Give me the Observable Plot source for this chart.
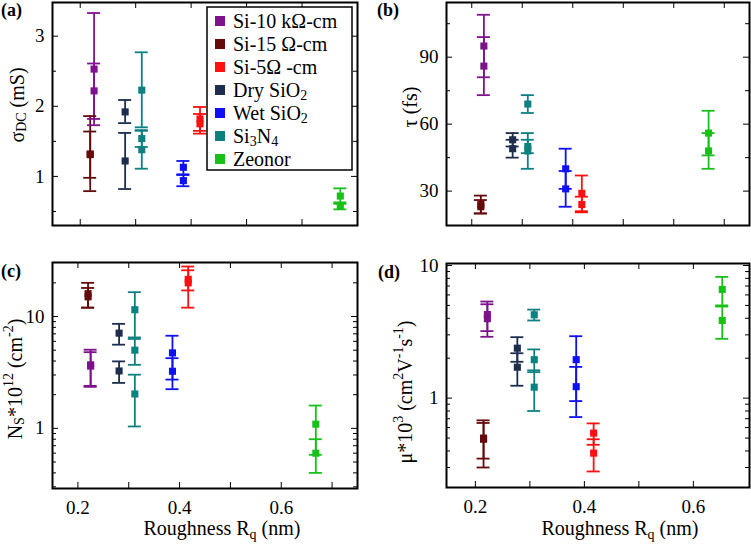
<!DOCTYPE html>
<html><head><meta charset="utf-8">
<script src="https://cdn.jsdelivr.net/npm/d3@7"></script>
<script src="https://cdn.jsdelivr.net/npm/@observablehq/plot@0.6"></script>
<style>
body{margin:0;background:#fff;}
#wrap{position:relative;width:751px;height:550px;overflow:hidden;background:#fff;}
#wrap svg{position:absolute;overflow:visible;}
#wrap svg text{font-family:"Liberation Serif","Times New Roman",Tinos,"DejaVu Serif","Noto Serif",FreeSerif,"Nimbus Roman",Times,serif !important;}
</style></head><body><div id="wrap"></div>
<script>
const FONT = "\"Liberation Serif\", \"Times New Roman\", Tinos, \"DejaVu Serif\", \"Noto Serif\", FreeSerif, Times, serif";
// Materials (legend order) and colours
const materials = ["Si-10 kΩ-cm", "Si-15 Ω-cm", "Si-5Ω -cm", "Dry SiO2", "Wet SiO2", "Si3N4", "Zeonor"];
const colors = ["#7e128c", "#650a0a", "#ff1010", "#1c2d4d", "#1010f5", "#0e8080", "#18c018"];

// Rows: [material index, roughness Rq (nm), value, error low, error high]
const sigmaDC = [
  [0, 0.225, 2.53, 1.73, 3.33], [0, 0.225, 2.22, 1.82, 2.61],
  [1, 0.218, 1.31, 0.98, 1.64], [1, 0.218, 1.32, 0.79, 1.86],
  [3, 0.281, 1.92, 1.76, 2.09], [3, 0.281, 1.22, 0.82, 1.62],
  [5, 0.311, 2.23, 1.70, 2.77], [5, 0.311, 1.54, 1.42, 1.66], [5, 0.311, 1.38, 1.11, 1.65],
  [4, 0.386, 1.13, 1.03, 1.22], [4, 0.386, 0.94, 0.86, 1.02],
  [2, 0.416, 1.82, 1.65, 1.99], [2, 0.416, 1.75, 1.61, 1.89],
  [6, 0.669, 0.72, 0.61, 0.83], [6, 0.669, 0.58, 0.53, 0.63]
];
const tau = [
  [0, 0.224, 95, 81, 109], [0, 0.224, 86, 73, 99],
  [1, 0.218, 24, 20, 28], [1, 0.218, 23, 20, 26],
  [3, 0.281, 53, 50, 56], [3, 0.281, 49, 45, 53],
  [5, 0.311, 69, 65, 73], [5, 0.311, 50, 47, 53], [5, 0.311, 48, 40, 56],
  [4, 0.386, 40, 31, 49], [4, 0.386, 31, 23, 39],
  [2, 0.418, 29, 21, 37], [2, 0.418, 24, 20.5, 27.5],
  [6, 0.669, 56, 46, 66], [6, 0.669, 48, 40, 56]
];
const ns = [
  [1, 0.220, 16, 12, 20], [1, 0.220, 15, 12, 18],
  [0, 0.225, 3.7, 2.35, 5.05], [0, 0.225, 3.6, 2.4, 4.8],
  [3, 0.281, 7.1, 5.6, 8.6], [3, 0.281, 3.26, 2.55, 3.97],
  [5, 0.312, 11.5, 6.5, 16.5], [5, 0.312, 5.0, 3.7, 6.3], [5, 0.312, 2.03, 1.04, 3.02],
  [4, 0.386, 4.73, 2.73, 6.73], [4, 0.386, 3.24, 2.24, 4.24],
  [2, 0.417, 20, 12, 28], [2, 0.417, 21.5, 17.1, 25.9],
  [6, 0.668, 1.09, 0.58, 1.6], [6, 0.668, 0.6, 0.4, 0.8]
];
const mobility = [
  [0, 0.222, 4.27, 3.2, 5.35], [0, 0.222, 3.97, 2.9, 5.1],
  [1, 0.215, 0.49, 0.30, 0.68], [1, 0.215, 0.50, 0.35, 0.65],
  [3, 0.277, 2.38, 1.88, 2.88], [3, 0.277, 1.71, 1.24, 2.18],
  [5, 0.308, 4.25, 3.85, 4.65], [5, 0.308, 1.95, 1.57, 2.33], [5, 0.308, 1.21, 0.80, 1.62],
  [4, 0.385, 1.95, 0.95, 2.93], [4, 0.385, 1.22, 0.72, 1.72],
  [2, 0.417, 0.545, 0.445, 0.645], [2, 0.417, 0.385, 0.28, 0.49],
  [6, 0.653, 6.6, 5.0, 8.2], [6, 0.653, 3.85, 2.8, 4.9]
];

// Tick values and labels
const xTicksA = [0.2, 0.3, 0.4, 0.5, 0.6];
const xTicksB = [0.2, 0.3, 0.4, 0.5, 0.6, 0.7];
const xTicksC = [0.2, 0.3, 0.4, 0.5, 0.6, 0.7];
const xTicksD = [0.2, 0.3, 0.4, 0.5, 0.6];
const xTickLabels = [0.2, 0.4, 0.6];
const yMajorA = [1, 2, 3], yMinorA = [0.5, 1.5, 2.5];
const yMajorB = [30, 60, 90], yMinorB = [45, 75, 105];
const yMajorLog = [1, 10];
const yMinorC = [0.3, 0.4, 0.5, 0.6, 0.7, 0.8, 0.9, 2, 3, 4, 5, 6, 7, 8, 9, 20];
const yMinorD = [0.3, 0.4, 0.5, 0.6, 0.7, 0.8, 0.9, 2, 3, 4, 5, 6, 7, 8, 9];

const wrap = document.getElementById("wrap");

function panel(cfg) {
  const [L, T, Wd, Ht, mL, mR, mT, mB] = cfg.box;
  const fw = Wd - mL - mR, fh = Ht - mT - mB;
  const data = cfg.rows.map(([m, x, y, lo, hi]) => ({m: materials[m], x, y, lo, hi}));
  const marks = [
    Plot.tickX(cfg.xTicks, {x: d => d, insetTop: fh - 6, stroke: "black"}),
    Plot.tickX(cfg.xTicks, {x: d => d, insetBottom: fh - 6, stroke: "black"}),
    Plot.tickY(cfg.yMajor, {y: d => d, insetRight: fw - 6, stroke: "black"}),
    Plot.tickY(cfg.yMajor, {y: d => d, insetLeft: fw - 6, stroke: "black"}),
    Plot.tickY(cfg.yMinor, {y: d => d, insetRight: fw - 4, stroke: "black"}),
    Plot.tickY(cfg.yMinor, {y: d => d, insetLeft: fw - 4, stroke: "black"}),
    Plot.axisY({ticks: cfg.yMajor, tickSize: 0, tickPadding: 8, fontSize: 19, tickFormat: d => String(d), label: null}),
    Plot.ruleX(data, {x: "x", y1: "lo", y2: "hi", stroke: "m", strokeWidth: 1.8}),
    Plot.ruleY(data, {y: "lo", x1: "x", x2: "x", insetLeft: -6.5, insetRight: -6.5, stroke: "m", strokeWidth: 1.8}),
    Plot.ruleY(data, {y: "hi", x1: "x", x2: "x", insetLeft: -6.5, insetRight: -6.5, stroke: "m", strokeWidth: 1.8}),
    Plot.dot(data, {x: "x", y: "y", symbol: "square", fill: "m", r: 4}),
    Plot.frame({stroke: "black", strokeWidth: 2})
  ];
  if (cfg.xLabels) marks.push(Plot.axisX({ticks: cfg.xLabels, tickSize: 0, tickPadding: 12, fontSize: 19, tickFormat: d => d.toFixed(1), label: null}));
  const svg = Plot.plot({
    width: Wd, height: Ht,
    marginLeft: mL, marginRight: mR, marginTop: mT, marginBottom: mB,
    style: {fontFamily: FONT, fontSize: "19px", background: "transparent", overflow: "visible", color: "black"},
    x: {domain: cfg.xDomain, axis: null},
    y: {type: cfg.yType, domain: cfg.yDomain, axis: null},
    color: {domain: materials, range: colors},
    marks
  });
  svg.style.position = "absolute";
  svg.style.left = L + "px";
  svg.style.top = T + "px";
  wrap.appendChild(svg);
}

panel({rows: sigmaDC, box: [0, 0, 360, 228, 52, 3, 2, 3], xDomain: [0.15, 0.7], xTicks: xTicksA,
  yType: "linear", yDomain: [0.3, 3.48], yMajor: yMajorA, yMinor: yMinorA});
panel({rows: tau, box: [390, 0, 361, 228, 56, 2, 2, 3], xDomain: [0.15, 0.75], xTicks: xTicksB,
  yType: "linear", yDomain: [14.6, 114.5], yMajor: yMajorB, yMinor: yMinorB});
panel({rows: ns, box: [0, 260, 360, 290, 52, 3, 2, 62], xDomain: [0.15, 0.75], xTicks: xTicksC, xLabels: xTickLabels,
  yType: "log", yDomain: [0.29, 30.4], yMajor: yMajorLog, yMinor: yMinorC});
panel({rows: mobility, box: [390, 260, 361, 290, 56, 2, 3, 63], xDomain: [0.147, 0.703], xTicks: xTicksD, xLabels: xTickLabels,
  yType: "log", yDomain: [0.212, 10.35], yMajor: yMajorLog, yMinor: yMinorD});

// Overlay: titles, panel letters, legend
const ov = d3.select(wrap).append("svg").attr("width", 751).attr("height", 550)
  .style("left", "0px").style("top", "0px").style("pointer-events", "none")
  .style("font-family", FONT).attr("fill", "black");

function rich(sel, parts, subShift = 4) {
  let shift = 0;
  for (const [t, k] of parts) {
    const target = k === "sub" ? subShift : k === "sup" ? -7 : 0;
    const ts = sel.append("tspan").text(t).attr("dy", target - shift);
    if (k) ts.attr("font-size", 14);
    shift = target;
  }
}

const labelSize = 20;
function yTitle(x, y, parts) {
  const t = ov.append("text").attr("transform", `translate(${x},${y}) rotate(-90)`)
    .attr("text-anchor", "middle").attr("font-size", labelSize).attr("dominant-baseline", "central");
  rich(t, parts);
}
yTitle(17, 105, [["σ", ""], ["DC", "sub"], [" (mS)", ""]]);
yTitle(410, 107, [["τ (fs)", ""]]);
yTitle(15, 379, [["N", ""], ["S", "sub"], ["*10", ""], ["12", "sup"], [" (cm", ""], ["-2", "sup"], [")", ""]]);
yTitle(405, 392, [["μ*10", ""], ["3", "sup"], [" (cm", ""], ["2", "sup"], ["V", ""], ["-1", "sup"], ["s", ""], ["-1", "sup"], [")", ""]]);

function xTitle(x, y) {
  const t = ov.append("text").attr("x", x).attr("y", y).attr("text-anchor", "middle").attr("font-size", labelSize);
  rich(t, [["Roughness R", ""], ["q", "sub"], [" (nm)", ""]]);
}
xTitle(222, 535);
xTitle(620, 535);

const letters = [["(a)", 1, 16], ["(b)", 377, 16], ["(c)", 1, 277], ["(d)", 378, 278]];
for (const [s, x, y] of letters) {
  ov.append("text").attr("x", x).attr("y", y).attr("font-size", 18).attr("font-weight", "bold").text(s);
}

// Legend
const legendParts = [
  [["Si-10 kΩ-cm", ""]], [["Si-15 Ω-cm", ""]], [["Si-5Ω -cm", ""]],
  [["Dry SiO", ""], ["2", "sub"]], [["Wet SiO", ""], ["2", "sub"]],
  [["Si", ""], ["3", "sub"], ["N", ""], ["4", "sub"]], [["Zeonor", ""]]
];
ov.append("rect").attr("x", 207).attr("y", 7).attr("width", 145).attr("height", 163)
  .attr("fill", "white").attr("stroke", "black").attr("stroke-width", 1.5);
legendParts.forEach((parts, i) => {
  const cy = 21 + i * 23;
  ov.append("rect").attr("x", 215).attr("y", cy - 5).attr("width", 10).attr("height", 10).attr("fill", colors[i]);
  const t = ov.append("text").attr("x", 233).attr("y", cy + 7).attr("font-size", labelSize);
  rich(t, parts, 3);
});
</script></body></html>
